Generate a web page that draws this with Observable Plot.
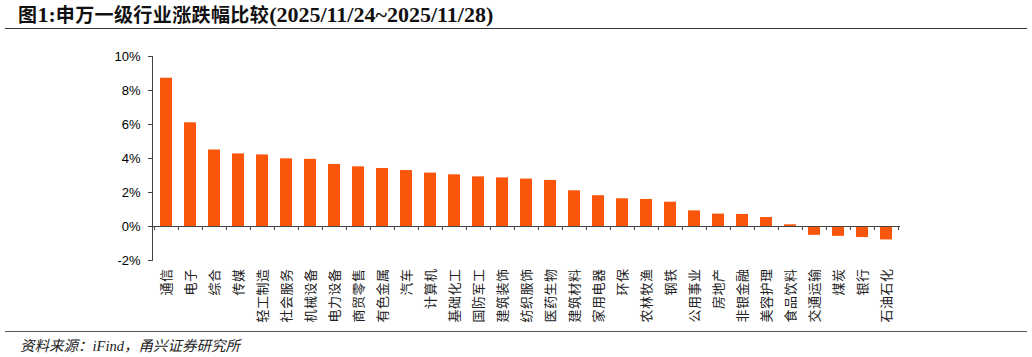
<!DOCTYPE html>
<html>
<head>
<meta charset="utf-8">
<script src="https://cdn.jsdelivr.net/npm/d3@7"></script>
<script src="https://cdn.jsdelivr.net/npm/@observablehq/plot@0.6"></script>
<style>
  html, body { margin: 0; padding: 0; background: #fff; }
  body { position: relative; width: 1032px; height: 357px; overflow: hidden; }
  #title {
    position: absolute; left: 5px; top: 0; width: 1022px; height: 29px;
    border-bottom: 1.5px solid #333; box-sizing: border-box;
    padding-left: 13px; line-height: 30px; white-space: nowrap;
    font-family: "Liberation Serif", "Noto Sans CJK SC", serif; font-weight: bold; color: #111;
    font-size: 19px; letter-spacing: 0.4px;
  }
  #title .lat { font-size: 22px; letter-spacing: 0; }
  #chart { position: absolute; left: 0; top: 31px; }
  #chart g[aria-label="x-axis tick label"] text { letter-spacing: 0.5px; }
  #caption {
    position: absolute; left: 5px; top: 331px; width: 1022px; height: 26px;
    border-top: 1.5px solid #555; box-sizing: border-box;
    padding-left: 15px; padding-top: 2px; white-space: nowrap;
    font-family: "Liberation Serif", "Noto Sans CJK SC", serif; font-style: italic;
    font-size: 14.5px; color: #222;
  }
</style>
</head>
<body>
<div id="title">图<span class="lat">1:</span>申万一级行业涨跌幅比较<span class="lat">(2025/11/24~2025/11/28)</span></div>
<div id="chart"></div>
<div id="caption">资料来源：iFind，甬兴证券研究所</div>
<script>
const categories = ["通信","电子","综合","传媒","轻工制造","社会服务","机械设备","电力设备","商贸零售","有色金属","汽车","计算机","基础化工","国防军工","建筑装饰","纺织服饰","医药生物","建筑材料","家用电器","环保","农林牧渔","钢铁","公用事业","房地产","非银金融","美容护理","食品饮料","交通运输","煤炭","银行","石油石化"];
const values = [8.72,6.10,4.50,4.27,4.21,3.98,3.95,3.65,3.51,3.41,3.29,3.14,3.04,2.92,2.86,2.79,2.71,2.10,1.81,1.63,1.59,1.43,0.92,0.73,0.71,0.53,0.10,-0.52,-0.58,-0.65,-0.79];
const yTicks = [-2,0,2,4,6,8,10];

const data = categories.map((c, i) => ({industry: c, change: values[i]}));

const W = 1032, H = 300, mL = 152, mR = 132, mT = 25, mB = 71;
const step = (W - mL - mR) / categories.length;
const axisColor = "#444";

const chart = Plot.plot({
  width: W, height: H,
  marginTop: mT, marginBottom: mB, marginLeft: mL, marginRight: mR,
  style: {fontFamily: "'Liberation Sans', Arial, sans-serif", fontSize: "13px", color: "#000", background: "#fff"},
  x: {domain: categories, paddingInner: 0.515, paddingOuter: 0.2575},
  y: {domain: [-2, 10]},
  marks: [
    Plot.barY(data, {x: "industry", y: "change", fill: "#F9560C"}),
    Plot.frame({anchor: "left", stroke: axisColor, strokeOpacity: 1}),
    Plot.ruleY([0], {stroke: axisColor, strokeWidth: 1.2}),
    Plot.ruleX(categories, {x: d => d, y1: 0, y2: -0.24, dx: -step / 2, stroke: axisColor}),
    Plot.ruleX([categories[categories.length - 1]], {x: d => d, y1: 0, y2: -0.24, dx: step / 2, stroke: axisColor}),
    Plot.axisY({ticks: yTicks, tickFormat: d => d + "%", tickSize: 4, tickPadding: 8, stroke: axisColor, label: null, fontSize: 13}),
    Plot.axisX({tickRotate: -90, tickSize: 0, tickPadding: 8, label: null, fontSize: 13,
      fontFamily: "'Noto Sans CJK SC', sans-serif", fill: "#222"})
  ]
});
document.getElementById("chart").appendChild(chart);
</script>
</body>
</html>
